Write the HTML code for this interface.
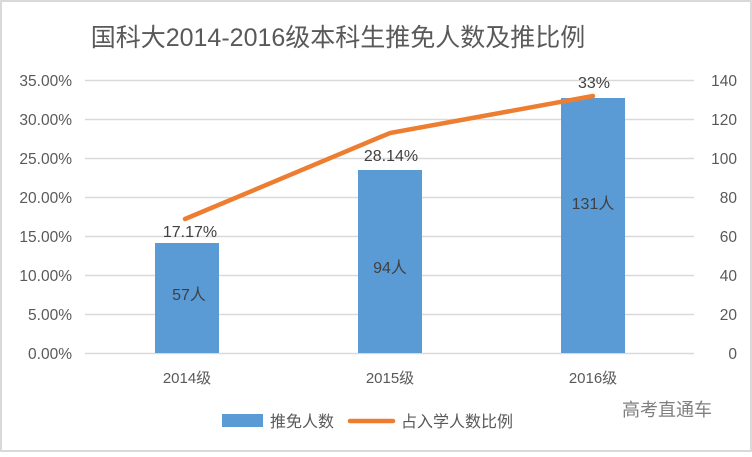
<!DOCTYPE html>
<html><head><meta charset="utf-8"><style>
html,body{margin:0;padding:0;background:#fff;}
body{width:752px;height:452px;overflow:hidden;}
</style></head><body>
<svg width="752" height="452" xmlns="http://www.w3.org/2000/svg" font-family="'Liberation Sans','Noto Sans CJK SC',sans-serif">
<rect x="1" y="1" width="750" height="450" fill="#fff" stroke="#d9d9d9" stroke-width="2"/>
<text x="338" y="46" text-anchor="middle" font-size="25" fill="#595959">国科大2014-2016级本科生推免人数及推比例</text>
<g stroke="#d9d9d9" stroke-width="1.5">
<line x1="85" x2="694" y1="80.5" y2="80.5"/>
<line x1="85" x2="694" y1="119.5" y2="119.5"/>
<line x1="85" x2="694" y1="158.5" y2="158.5"/>
<line x1="85" x2="694" y1="197.5" y2="197.5"/>
<line x1="85" x2="694" y1="236.5" y2="236.5"/>
<line x1="85" x2="694" y1="275.5" y2="275.5"/>
<line x1="85" x2="694" y1="314.5" y2="314.5"/>
<line x1="85" x2="694" y1="353.5" y2="353.5"/>
</g>
<g font-size="15.5" fill="#595959" text-anchor="end">
<text x="72" y="86">35.00%</text>
<text x="72" y="125">30.00%</text>
<text x="72" y="164">25.00%</text>
<text x="72" y="203">20.00%</text>
<text x="72" y="242">15.00%</text>
<text x="72" y="281">10.00%</text>
<text x="72" y="320">5.00%</text>
<text x="72" y="359">0.00%</text>
</g>
<g font-size="15.5" fill="#595959" text-anchor="end">
<text x="737" y="86">140</text>
<text x="737" y="125">120</text>
<text x="737" y="164">100</text>
<text x="737" y="203">80</text>
<text x="737" y="242">60</text>
<text x="737" y="281">40</text>
<text x="737" y="320">20</text>
<text x="737" y="359">0</text>
</g>
<g fill="#5b9bd5">
<rect x="155" y="243" width="64" height="110"/>
<rect x="358" y="170" width="64" height="183"/>
<rect x="561" y="98" width="64" height="255"/>
</g>
<polyline points="185,219 390,133 593,96" fill="none" stroke="#ed7d31" stroke-width="4.5" stroke-linecap="round"/>
<g font-size="16" fill="#404040" text-anchor="middle">
<text x="190" y="237">17.17%</text>
<text x="391" y="161">28.14%</text>
<text x="594" y="88">33%</text>
<text x="189" y="300">57人</text>
<text x="390" y="273">94人</text>
<text x="593" y="209">131人</text>
</g>
<g font-size="15" fill="#595959" text-anchor="middle">
<text x="187" y="383">2014级</text>
<text x="390" y="383">2015级</text>
<text x="593" y="383">2016级</text>
</g>
<rect x="222" y="414" width="41" height="13" fill="#5b9bd5"/>
<text x="270" y="427" font-size="16" fill="#595959">推免人数</text>
<line x1="350" x2="393" y1="421" y2="421" stroke="#ed7d31" stroke-width="4.5" stroke-linecap="round"/>
<text x="401" y="427" font-size="16" fill="#595959">占入学人数比例</text>
<text x="667" y="416" font-size="18" fill="#7f7f7f" text-anchor="middle">高考直通车</text>
</svg>
</body></html>
